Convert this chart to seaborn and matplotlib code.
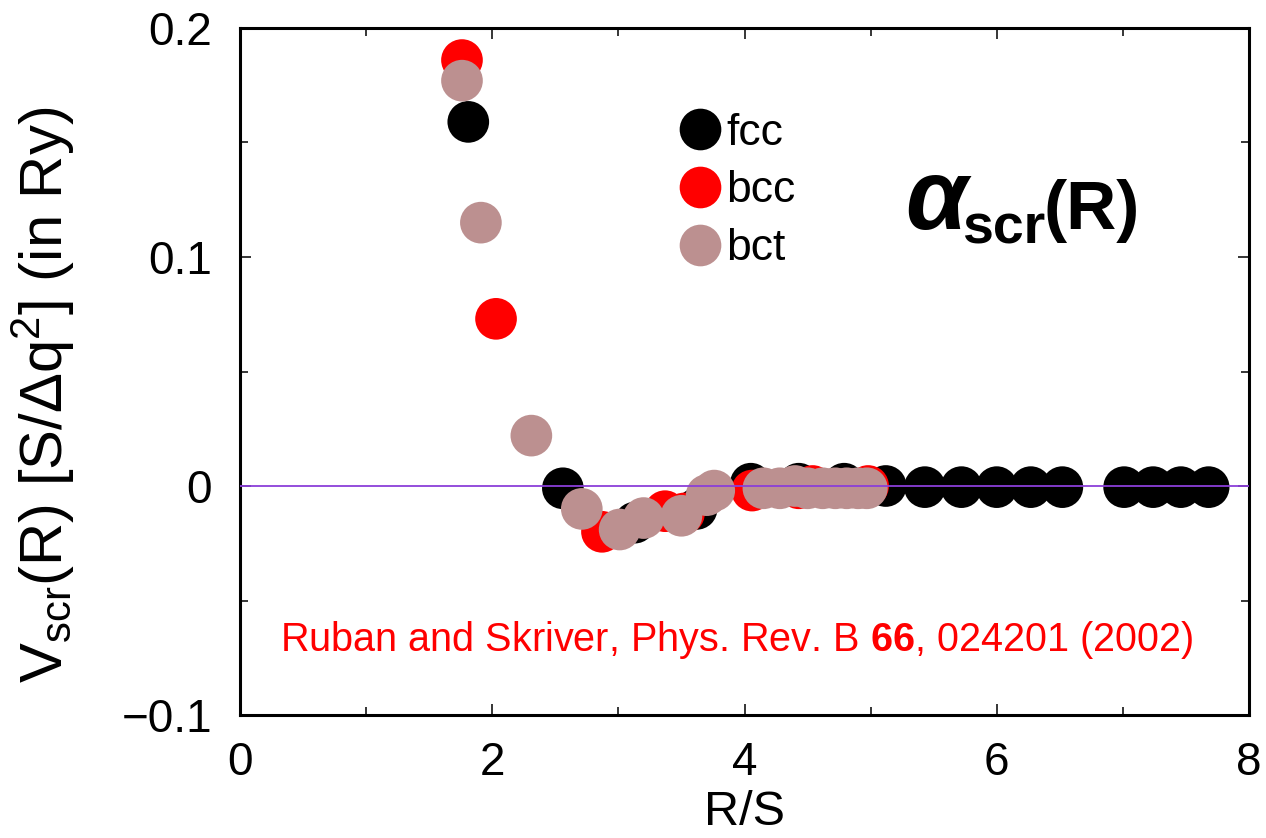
import matplotlib
matplotlib.use("Agg")
import matplotlib.pyplot as plt
from matplotlib.lines import Line2D
from matplotlib.ticker import MultipleLocator
import numpy as np
import pandas as pd
import seaborn as sns

# Screened Coulomb interaction vs. distance for three lattices
fcc_r = [1.81, 2.56, 3.13, 3.62, 4.05, 4.43, 4.79, 5.12, 5.43, 5.72, 6.00,
         6.27, 6.52, 7.01, 7.24, 7.46, 7.68]
fcc_v = [0.159, -0.001, -0.016, -0.010, 0.001, 0.001, 0.001, 0.000, -0.0005,
         -0.0005, -0.0005, -0.0005, -0.0005, -0.0005, -0.0005, -0.0005, -0.0005]

bcc_r = [1.76, 2.03, 2.87, 3.37, 3.52, 4.06, 4.43, 4.54, 4.98]
bcc_v = [0.186, 0.073, -0.020, -0.011, -0.012, -0.002, -0.001, 0.000, 0.000]

bct_r = [1.76, 1.91, 2.31, 2.71, 3.01, 3.20, 3.50, 3.70, 3.76, 4.15, 4.28,
         4.40, 4.50, 4.62, 4.72, 4.81, 4.90, 4.97]
bct_v = [0.177, 0.115, 0.022, -0.010, -0.019, -0.014, -0.013, -0.004, -0.002,
         -0.001, -0.001, 0.000, -0.001, -0.001, -0.001, -0.001, -0.001, -0.001]

lattices = ["fcc", "bcc", "bct"]
colors = {"fcc": "#000000", "bcc": "#FF0000", "bct": "#BC9090"}

x_ticks = [0, 2, 4, 6, 8]
y_ticks = [-0.1, 0.0, 0.1, 0.2]
y_tick_labels = ["\u22120.1", "0", "0.1", "0.2"]

df = pd.DataFrame({
    "R": fcc_r + bcc_r + bct_r,
    "V": fcc_v + bcc_v + bct_v,
    "lattice": ["fcc"] * len(fcc_r) + ["bcc"] * len(bcc_r) + ["bct"] * len(bct_r),
})

sns.set_theme(style="ticks")
plt.rcParams["font.family"] = ["Liberation Sans", "DejaVu Sans"]
plt.rcParams["mathtext.fontset"] = "custom"
plt.rcParams["mathtext.rm"] = "Liberation Sans"
plt.rcParams["mathtext.it"] = "Liberation Sans:italic"
plt.rcParams["mathtext.bf"] = "Liberation Sans:bold"
for key in ["text.color", "axes.labelcolor", "xtick.color", "ytick.color",
            "axes.edgecolor"]:
    plt.rcParams[key] = "black"

fig = plt.figure(figsize=(12.66, 8.38), dpi=100)
ax = fig.add_axes([240 / 1266, 1 - 715 / 838, 1009 / 1266, 687 / 838])

sns.scatterplot(data=df, x="R", y="V", hue="lattice", hue_order=lattices,
                palette=colors, s=900, linewidth=0, edgecolor="none",
                alpha=1.0, legend=False, ax=ax, zorder=3)

ax.axhline(0, color="#8B3FD9", lw=1.3, zorder=5)

ax.set_xlim(0, 8)
ax.set_ylim(-0.1, 0.2)
ax.set_xticks(x_ticks)
ax.set_xticklabels([str(t) for t in x_ticks])
ax.set_yticks(y_ticks)
ax.set_yticklabels(y_tick_labels)
ax.xaxis.set_minor_locator(MultipleLocator(1))
ax.yaxis.set_minor_locator(MultipleLocator(0.05))
ax.tick_params(which="both", direction="in", top=True, right=True,
               width=1.1, color="black", labelcolor="black", labelsize=33)
ax.tick_params(which="major", length=8)
ax.tick_params(which="minor", length=6)
ax.tick_params(axis="y", pad=20)
ax.tick_params(axis="x", pad=19)
for sp in ax.spines.values():
    sp.set_linewidth(2.2)
    sp.set_color("black")

ax.set_xlabel("R/S", fontsize=35, labelpad=3)
ax.set_ylabel(r"V$_{\rm scr}$(R) [S/$\Delta$q$^{2}$] (in Ry)", fontsize=43)
ax.yaxis.set_label_coords(-0.162, 0.466)

handles = [Line2D([], [], ls="none", marker="o", markersize=30,
                  markerfacecolor=colors[k], markeredgewidth=0)
           for k in lattices]
ax.legend(handles, lattices, loc="upper left", bbox_to_anchor=(0.435, 0.877),
          frameon=False, fontsize=32, handlelength=0.95, handletextpad=0.12,
          labelspacing=0.38, borderpad=0, borderaxespad=0)

# Panel title: alpha_scr(R)
ax.text(0.659, 0.708, "\u03b1", transform=ax.transAxes, fontsize=72,
        fontweight="bold", fontstyle="italic", va="baseline", ha="left")
ax.text(0.716, 0.687, "scr", transform=ax.transAxes, fontsize=40,
        fontweight="bold", va="baseline", ha="left")
ax.text(0.796, 0.707, "(R)", transform=ax.transAxes, fontsize=50,
        fontweight="bold", va="baseline", ha="left")

ax.text(0.4926, 0.109,
        r"Ruban and Skriver, Phys. Rev. B $\mathbf{66}$, 024201 (2002)",
        transform=ax.transAxes, fontsize=28.5, color="#FF0000",
        ha="center", va="center")

fig.savefig("out.png", dpi=100)
